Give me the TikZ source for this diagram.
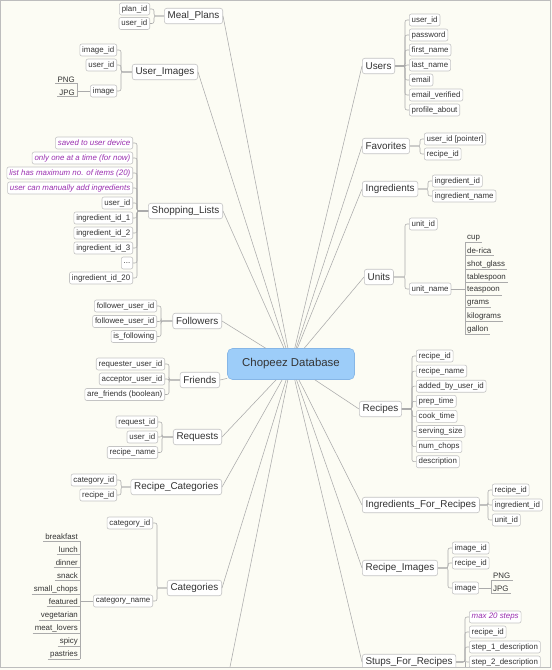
\documentclass[tikz,border=0pt]{standalone}
\usepackage{fontspec}
\setmainfont{Liberation Sans}
\usetikzlibrary{calc}
\definecolor{bgc}{HTML}{FCFCF4}
\definecolor{linec}{HTML}{ABABAB}
\definecolor{boxc}{HTML}{C4C4C4}
\definecolor{txtc}{HTML}{333333}
\definecolor{purp}{HTML}{9A2FB0}
\definecolor{cfill}{HTML}{9DCDF9}
\definecolor{cdraw}{HTML}{86B6E6}
\definecolor{framec}{HTML}{BDBDBD}
\tikzset{
 fld/.style={draw=boxc, fill=white, rounded corners=2pt, font=\fontsize{7.9}{9}\selectfont, text=txtc, inner xsep=2.4pt, inner ysep=0pt, minimum height=12pt, line width=0.6pt},
 note/.style={fld, text=purp, font=\fontsize{7.9}{9}\selectfont\itshape},
 tbl/.style={draw=boxc, fill=white, rounded corners=2.5pt, font=\fontsize{9.9}{11}\selectfont, text=txtc, inner xsep=3.3pt, inner ysep=0pt, minimum height=15.5pt, line width=0.6pt},
 val/.style={font=\fontsize{7.9}{9}\selectfont, text=txtc, inner xsep=2pt, inner ysep=1.2pt},
 ln/.style={draw=linec, line width=0.55pt},
 br/.style={ln, rounded corners=2pt},
}
\begin{document}
\begin{tikzpicture}[x=1pt,y=-1pt]
\useasboundingbox (0,0) rectangle (552,670);
\fill[bgc] (0,0) rectangle (552,670);
\begin{scope}
\clip (1,1) rectangle (549.5,666.5);
% center
\node[draw=cdraw, fill=cfill, rounded corners=5pt, minimum width=127pt, minimum height=31pt, font=\fontsize{11.4}{13}\selectfont, text=txtc, line width=0.6pt] (C) at (291,364) {Chopeez Database};

% ---------- LEFT SIDE ----------
\node[tbl, anchor=east] (MP) at (223,16) {Meal\_Plans};
\node[tbl, anchor=east] (UI) at (198,72) {User\_Images};
\node[tbl, anchor=east] (SL) at (223,211) {Shopping\_Lists};
\node[tbl, anchor=east] (FO) at (222,321) {Followers};
\node[tbl, anchor=east] (FR) at (220,380) {Friends};
\node[tbl, anchor=east] (RQ) at (222,437) {Requests};
\node[tbl, anchor=east] (RC) at (222,487) {Recipe\_Categories};
\node[tbl, anchor=east] (CA) at (222,588) {Categories};
\coordinate (OFF) at (229,672);

\foreach \t in {MP,UI,SL,FO,FR,RQ,RC,CA} \draw[ln] (\t.east) -- (C);
\draw[ln] (OFF) -- (C);

% Meal_Plans
\node[fld, anchor=east] (mp1) at (150,9) {plan\_id};
\node[fld, anchor=east] (mp2) at (150,23.5) {user\_id};
\foreach \f in {mp1,mp2} \draw[br] (\f.east) -- ++(4,0) |- (MP.west);

% User_Images
\node[fld, anchor=east] (ui1) at (117,50) {image\_id};
\node[fld, anchor=east] (ui2) at (117,65) {user\_id};
\node[fld, anchor=east] (ui3) at (117,91) {image};
\foreach \f in {ui1,ui2,ui3} \draw[br] (\f.east) -- ++(4,0) |- (UI.west);
\node[val, anchor=east] (png1) at (77,79.5) {PNG};
\node[val, anchor=east] (jpg1) at (77,92.5) {JPG};
\draw[ln] (png1.south west) -- (png1.south east) -- (jpg1.south east) -- (jpg1.south west);
\draw[ln] (ui3.west) -- (ui3.west -| jpg1.east);

% Shopping_Lists
\node[note, anchor=east] (sl1) at (133,143) {saved to user device};
\node[note, anchor=east] (sl2) at (133,158) {only one at a time (for now)};
\node[note, anchor=east] (sl3) at (133,173) {list has maximum no. of items (20)};
\node[note, anchor=east] (sl4) at (133,188) {user can manually add ingredients};
\node[fld, anchor=east] (sl5) at (133,203) {user\_id};
\node[fld, anchor=east] (sl6) at (133,218) {ingredient\_id\_1};
\node[fld, anchor=east] (sl7) at (133,233) {ingredient\_id\_2};
\node[fld, anchor=east] (sl8) at (133,248) {ingredient\_id\_3};
\node[fld, anchor=east] (sl9) at (133,263) {...};
\node[fld, anchor=east] (sl10) at (133,278) {ingredient\_id\_20};
\foreach \f in {sl1,sl2,sl3,sl4,sl5,sl6,sl7,sl8,sl9,sl10} \draw[br] (\f.east) -- ++(4,0) |- (SL.west);

% Followers
\node[fld, anchor=east] (fo1) at (157,306) {follower\_user\_id};
\node[fld, anchor=east] (fo2) at (157,321.5) {followee\_user\_id};
\node[fld, anchor=east] (fo3) at (157,336.5) {is\_following};
\foreach \f in {fo1,fo2,fo3} \draw[br] (\f.east) -- ++(4,0) |- (FO.west);

% Friends
\node[fld, anchor=east] (fr1) at (165,364) {requester\_user\_id};
\node[fld, anchor=east] (fr2) at (165,379) {acceptor\_user\_id};
\node[fld, anchor=east] (fr3) at (165,394.5) {are\_friends (boolean)};
\foreach \f in {fr1,fr2,fr3} \draw[br] (\f.east) -- ++(4,0) |- (FR.west);

% Requests
\node[fld, anchor=east] (rq1) at (158,422) {request\_id};
\node[fld, anchor=east] (rq2) at (158,437) {user\_id};
\node[fld, anchor=east] (rq3) at (158,452.5) {recipe\_name};
\foreach \f in {rq1,rq2,rq3} \draw[br] (\f.east) -- ++(4,0) |- (RQ.west);

% Recipe_Categories
\node[fld, anchor=east] (rc1) at (117,480) {category\_id};
\node[fld, anchor=east] (rc2) at (117,495) {recipe\_id};
\foreach \f in {rc1,rc2} \draw[br] (\f.east) -- ++(4,0) |- (RC.west);

% Categories
\node[fld, anchor=east] (ca1) at (153,523) {category\_id};
\node[fld, anchor=east] (ca2) at (153,601) {category\_name};
\foreach \f in {ca1,ca2} \draw[br] (\f.east) -- ++(4,0) |- (CA.west);
\foreach \v/\n [count=\i from 0] in {breakfast/cv1,lunch/cv2,dinner/cv3,snack/cv4,small\_chops/cv5,featured/cv6,vegetarian/cv7,meat\_lovers/cv8,spicy/cv9,pastries/cv10}
  \node[val, anchor=east] (\n) at (80,537+13*\i) {\v};
\foreach \n in {cv1,cv2,cv3,cv4,cv5,cv6,cv7,cv8,cv9,cv10}
  \draw[ln] (\n.south west) -- (\n.south east);
\draw[ln] (cv1.south east) -- (cv10.south east);
\draw[ln] (ca2.west) -- (ca2.west -| cv1.east);

% ---------- RIGHT SIDE ----------
\node[tbl, anchor=west] (US) at (362,66) {Users};
\node[tbl, anchor=west] (FA) at (362,146) {Favorites};
\node[tbl, anchor=west] (IN) at (362,189) {Ingredients};
\node[tbl, anchor=west] (UN) at (364,277) {Units};
\node[tbl, anchor=west] (RE) at (359,409) {Recipes};
\node[tbl, anchor=west] (IF) at (362,505) {Ingredients\_For\_Recipes};
\node[tbl, anchor=west] (RI) at (362,568) {Recipe\_Images};
\node[tbl, anchor=west] (ST) at (362,662) {Stups\_For\_Recipes};
\foreach \t in {US,FA,IN,UN,RE,IF,RI,ST} \draw[ln] (\t.west) -- (C);

% Users
\foreach \v/\n [count=\i from 0] in {user\_id/us1,password/us2,first\_name/us3,last\_name/us4,email/us5,email\_verified/us6,profile\_about/us7}
  \node[fld, anchor=west] (\n) at (409,20+15*\i) {\v};
\foreach \f in {us1,us2,us3,us4,us5,us6,us7} \draw[br] (\f.west) -- ++(-4,0) |- (US.east);

% Favorites
\node[fld, anchor=west] (fa1) at (424,139) {user\_id [pointer]};
\node[fld, anchor=west] (fa2) at (424,154) {recipe\_id};
\foreach \f in {fa1,fa2} \draw[br] (\f.west) -- ++(-4,0) |- (FA.east);

% Ingredients
\node[fld, anchor=west] (in1) at (432,181) {ingredient\_id};
\node[fld, anchor=west] (in2) at (432,196) {ingredient\_name};
\foreach \f in {in1,in2} \draw[br] (\f.west) -- ++(-4,0) |- (IN.east);

% Units
\node[fld, anchor=west] (un1) at (409,224) {unit\_id};
\node[fld, anchor=west] (un2) at (409,289) {unit\_name};
\foreach \f in {un1,un2} \draw[br] (\f.west) -- ++(-4,0) |- (UN.east);
\foreach \v/\n [count=\i from 0] in {cup/uv1,de-rica/uv2,shot\_glass/uv3,tablespoon/uv4,teaspoon/uv5,grams/uv6,kilograms/uv7,gallon/uv8}
  \node[val, anchor=west] (\n) at (465,238+13*\i) {\v};
\foreach \n in {uv1,uv2,uv3,uv4,uv5,uv6,uv7,uv8}
  \draw[ln] (\n.south west) -- (\n.south east);
\draw[ln] (uv1.south west) -- (uv8.south west);
\draw[ln] (un2.east) -- (un2.east -| uv1.west);

% Recipes
\foreach \v/\n [count=\i from 0] in {recipe\_id/re1,recipe\_name/re2,added\_by\_user\_id/re3,prep\_time/re4,cook\_time/re5,serving\_size/re6,num\_chops/re7,description/re8}
  \node[fld, anchor=west] (\n) at (416,356+15.1*\i) {\v};
\foreach \f in {re1,re2,re3,re4,re5,re6,re7,re8} \draw[br] (\f.west) -- ++(-4,0) |- (RE.east);

% Ingredients_For_Recipes
\node[fld, anchor=west] (if1) at (492,490) {recipe\_id};
\node[fld, anchor=west] (if2) at (492,505) {ingredient\_id};
\node[fld, anchor=west] (if3) at (492,520) {unit\_id};
\foreach \f in {if1,if2,if3} \draw[br] (\f.west) -- ++(-4,0) |- (IF.east);

% Recipe_Images
\node[fld, anchor=west] (ri1) at (452,548) {image\_id};
\node[fld, anchor=west] (ri2) at (452,563) {recipe\_id};
\node[fld, anchor=west] (ri3) at (452,588) {image};
\foreach \f in {ri1,ri2,ri3} \draw[br] (\f.west) -- ++(-4,0) |- (RI.east);
\node[val, anchor=west] (png2) at (491,576) {PNG};
\node[val, anchor=west] (jpg2) at (491,589) {JPG};
\draw[ln] (png2.south east) -- (png2.south west) -- (jpg2.south west) -- (jpg2.south east);
\draw[ln] (ri3.east) -- (ri3.east -| jpg2.west);

% Stups_For_Recipes
\node[note, anchor=west] (st1) at (469,617) {max 20 steps};
\node[fld, anchor=west] (st2) at (469,632) {recipe\_id};
\node[fld, anchor=west] (st3) at (469,647) {step\_1\_description};
\node[fld, anchor=west] (st4) at (469,662) {step\_2\_description};
\foreach \f in {st1,st2,st3,st4} \draw[br] (\f.west) -- ++(-4,0) |- (ST.east);
\coordinate (STM) at (465,672);
\draw[ln] (st4.west) ++(-4,0) -- (STM);
\end{scope}
\draw[framec, line width=1pt] (0.5,0.5) rectangle (550,667);
\end{tikzpicture}
\end{document}
